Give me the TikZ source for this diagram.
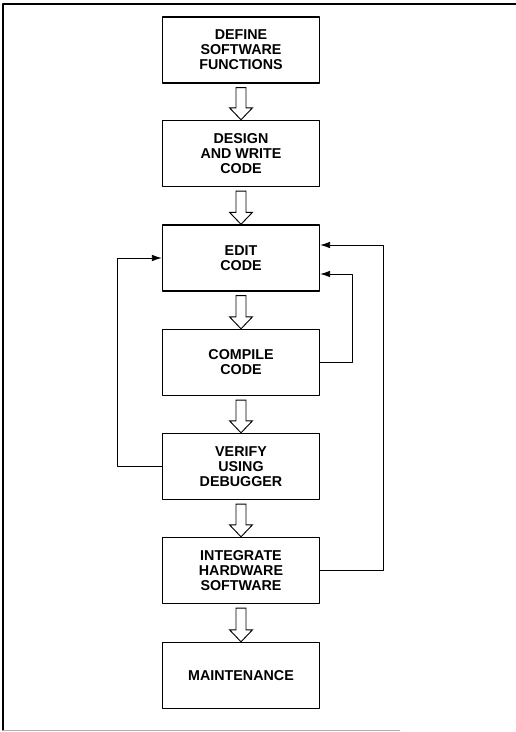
\documentclass[tikz,border=0pt]{standalone}
\usepackage{fontspec}
\setmainfont{Liberation Sans}
\usetikzlibrary{calc,arrows.meta}

\tikzset{
  stage/.style={draw, line width=1.2pt, minimum width=4.71cm, minimum height=1.98cm,
    align=center, inner sep=2pt, font=\bfseries\fontsize{12.2}{12.9}\selectfont},
  hollow/.style={draw, line width=0.8pt, line join=miter},
  fback/.style={draw, line width=0.8pt, -{Latex[length=3mm,width=2mm]}}
}

% hollow block arrow from the bottom of #1 to the top of #2
\newcommand{\hollowarrow}[2]{%
  \draw[hollow] ($(#1.south)+(-5,4)$) -- ($(#2.north)+(-5,-12)$) -- ++(-6.5,0)
    -- (#2.north) -- ($(#2.north)+(11.5,-12)$) -- ++(-6.5,0)
    -- ($(#1.south)+(5,4)$) -- cycle;
}

\begin{document}
\begin{tikzpicture}[line join=round, line cap=round, x=0.03cm, y=-0.03cm]
    % frame (page size 516 x 732 px)
    \useasboundingbox (0,0) rectangle (516,732);
    \draw[line width=1.6pt] (516,4) -- (3,4) -- (3,730);
    \draw[very thin, black!30] (3,730) -- (400,730);

    % stages, top to bottom
    \node[stage] (define)    at (241,50)    {DEFINE\\SOFTWARE\\FUNCTIONS};
    \node[stage] (design)    at (241,153.5) {DESIGN\\AND WRITE\\CODE};
    \node[stage] (edit)      at (241,258)   {EDIT\\CODE};
    \node[stage] (compile)   at (241,362.5) {COMPILE\\CODE};
    \node[stage] (verify)    at (241,466.5) {VERIFY\\USING\\DEBUGGER};
    \node[stage] (integrate) at (241,570.5) {INTEGRATE\\HARDWARE\\SOFTWARE};
    \node[stage] (maint)     at (241,675.5) {MAINTENANCE};

    % forward flow
    \hollowarrow{define}{design}
    \hollowarrow{design}{edit}
    \hollowarrow{edit}{compile}
    \hollowarrow{compile}{verify}
    \hollowarrow{verify}{integrate}
    \hollowarrow{integrate}{maint}

    % feedback loops back to editing
    \draw[fback] (verify.west) -- ++(-44,0) |- (edit.west);
    \draw[fback] (compile.east) -- ++(32,0) |- ($(edit.east)+(0,16)$);
    \draw[fback] (integrate.east) -- ++(63,0) |- ($(edit.east)+(0,-13)$);
\end{tikzpicture}
\end{document}
